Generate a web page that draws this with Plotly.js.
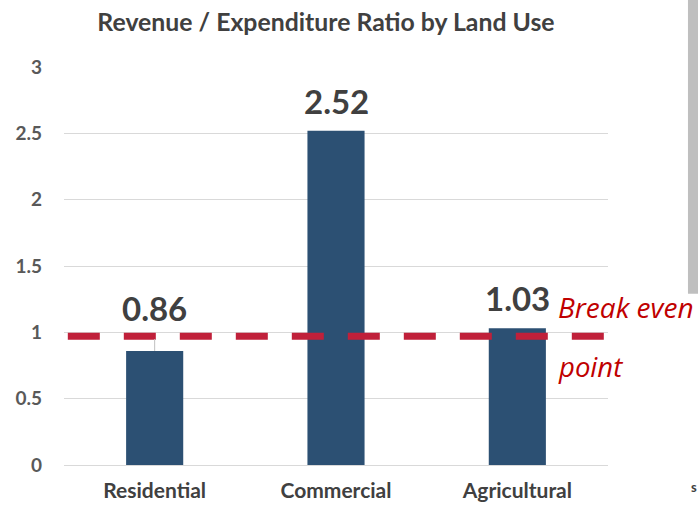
<!DOCTYPE html>
<html><head><meta charset="utf-8">
<script src="https://cdn.plot.ly/plotly-3.0.1.min.js"></script>
<style>html,body{margin:0;padding:0;background:#fff}#c{width:698px;height:508px}</style>
</head><body><div id="c"></div>
<script>
const categories = ["Residential", "Commercial", "Agricultural"];
const ratios = [0.86, 2.52, 1.03];
const labels = ["0.86", "2.52", "1.03"];
const breakEven = 0.97;
const yTicks = [0, 0.5, 1, 1.5, 2, 2.5, 3];
const yTickText = ["0", "0.5", "1", "1.5", "2", "2.5", "3"];

const FONT = "Lato, 'Open Sans', sans-serif";
const trace = {
  type: "bar", x: categories, y: ratios, width: 0.315,
  marker: {color: "#2c5073"}, hoverinfo: "skip"
};
const annotations = categories.map((c, i) => ({
  x: c, y: ratios[i], xref: "x", yref: "y", text: "<b>" + labels[i] + "</b>",
  showarrow: false, yanchor: "bottom", yshift: i === 0 ? 21 : 8,
  font: {family: FONT, size: 33, color: "#404040"}
}));
annotations.push(
  {xref: "paper", yref: "y", x: 0.905, y: 1.19, xanchor: "left", text: "<i>Break even</i>", showarrow: false,
   font: {family: "'Open Sans', sans-serif", size: 28, color: "#c00000"}},
  {xref: "paper", yref: "y", x: 0.905, y: 0.74, xanchor: "left", text: "<i>point</i>", showarrow: false,
   font: {family: "'Open Sans', sans-serif", size: 27.5, color: "#c00000"}},
  {xref: "paper", yref: "paper", x: 1.158, y: -0.055, xanchor: "center", yanchor: "middle", text: "<b>s</b>", showarrow: false,
   font: {family: FONT, size: 13, color: "#404040"}}
);
const layout = {
  width: 698, height: 508,
  margin: {l: 64, r: 90, t: 67, b: 43},
  paper_bgcolor: "#fff", plot_bgcolor: "#fff",
  showlegend: false,
  title: {text: "<b>Revenue / Expenditure Ratio by Land Use</b>", x: 0.467, xanchor: "center", y: 0.957, yanchor: "middle",
          font: {family: FONT, size: 24.8, color: "#404040"}},
  xaxis: {type: "category", range: [-0.5, 2.5], showgrid: false, showline: false, zeroline: false, ticks: "",
          tickfont: {family: FONT, size: 21, color: "#404040", weight: "bold"}, ticklabelstandoff: 11, fixedrange: true},
  yaxis: {range: [0, 3], tickvals: yTicks, ticktext: yTickText, showgrid: true, gridcolor: "#d9d9d9", gridwidth: 1,
          zeroline: true, zerolinecolor: "#d9d9d9", zerolinewidth: 1, showline: false, ticks: "",
          tickfont: {family: FONT, size: 19, color: "#595959", weight: "bold"}, ticklabelstandoff: 21, fixedrange: true},
  annotations: annotations,
  shapes: [
    {type: "line", xref: "paper", yref: "y", x0: 0.007, x1: 0.993, y0: breakEven, y1: breakEven,
     line: {color: "#c0203a", width: 7, dash: "32px,24px"}},
    {type: "line", xref: "x", yref: "y", x0: categories[0], x1: categories[0], y0: ratios[0], y1: 0.95,
     line: {color: "#bfbfbf", width: 1}},
    {type: "rect", xref: "paper", yref: "paper", x0: 1.147, x1: 1.17, y0: 0.43, y1: 1.2,
     fillcolor: "#bfbfbf", line: {width: 0}}
  ]
};
Plotly.newPlot("c", [trace], layout, {displayModeBar: false, staticPlot: true});
</script></body></html>
